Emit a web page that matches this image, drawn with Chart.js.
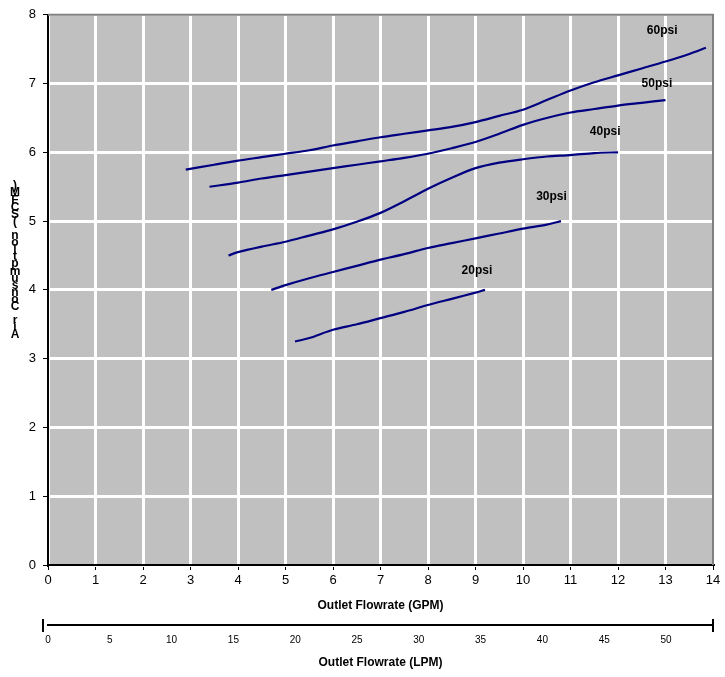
<!DOCTYPE html>
<html>
<head>
<meta charset="utf-8">
<script src="https://cdn.jsdelivr.net/npm/chart.js@4.4.1/dist/chart.umd.min.js"></script>
<style>
  html, body { margin: 0; padding: 0; background: #fff; }
  #wrap { width: 725px; height: 677px; }
</style>
</head>
<body>
<div id="wrap"><canvas id="flowChart" width="725" height="677"></canvas></div>
<script>
// tick labels
let gpmTicks = [0, 1, 2, 3, 4, 5, 6, 7, 8, 9, 10, 11, 12, 13, 14];
let lpmTicks = [0, 5, 10, 15, 20, 25, 30, 35, 40, 45, 50];
let scfmTicks = [0, 1, 2, 3, 4, 5, 6, 7, 8];

// series (x = GPM, y = SCFM)
let psi60X = [2.9, 3.5, 4, 4.5, 5, 5.5, 6, 6.5, 7, 7.5, 8, 8.5, 9, 9.5, 10, 10.5, 11, 11.5, 12, 12.5, 13, 13.5, 13.85];
let psi60Y = [5.75, 5.82, 5.88, 5.93, 5.98, 6.03, 6.1, 6.16, 6.22, 6.27, 6.32, 6.37, 6.44, 6.53, 6.62, 6.76, 6.9, 7.02, 7.12, 7.22, 7.32, 7.43, 7.52];

let psi50X = [3.4, 4, 4.5, 5, 5.5, 6, 6.5, 7, 7.5, 8, 8.5, 9, 9.5, 10, 10.5, 11, 11.5, 12, 12.5, 13];
let psi50Y = [5.5, 5.56, 5.62, 5.67, 5.72, 5.77, 5.82, 5.87, 5.92, 5.98, 6.06, 6.15, 6.27, 6.4, 6.5, 6.58, 6.63, 6.68, 6.72, 6.76];

let psi40X = [3.8, 4, 4.5, 5, 5.5, 6, 6.5, 7, 7.5, 8, 8.5, 9, 9.5, 10, 10.5, 11, 11.5, 12];
let psi40Y = [4.5, 4.55, 4.63, 4.7, 4.79, 4.88, 4.99, 5.12, 5.29, 5.47, 5.63, 5.77, 5.85, 5.9, 5.94, 5.96, 5.99, 6.0];

let psi30X = [4.7, 5, 5.5, 6, 6.5, 7, 7.5, 8, 8.5, 9, 9.5, 10, 10.5, 10.8];
let psi30Y = [4.0, 4.07, 4.17, 4.26, 4.35, 4.44, 4.52, 4.61, 4.68, 4.75, 4.82, 4.89, 4.95, 5.0];

let psi20X = [5.2, 5.5, 6, 6.5, 7, 7.5, 8, 8.5, 9, 9.2];
let psi20Y = [3.25, 3.3, 3.42, 3.5, 3.59, 3.68, 3.78, 3.87, 3.96, 4.0];

// curve labels
let seriesNames = ['60psi', '50psi', '40psi', '30psi', '20psi'];
let nameX = [12.93, 12.82, 11.73, 10.6, 9.03];
let nameY = [7.77, 7.0, 6.3, 5.36, 4.28];

let yTitle = 'Air Consumption (SCFM)';
let xTitle = 'Outlet Flowrate (GPM)';
let x2Title = 'Outlet Flowrate (LPM)';

let lineColor = '#000080';
let fontName = '"Liberation Sans", Arial, sans-serif';

function toPoints(xs, ys) {
    return xs.map((x, i) => ({ x: x, y: ys[i] }));
}

function makeSet(name, xs, ys) {
    return {
        label: name,
        data: toPoints(xs, ys),
        borderColor: lineColor,
        borderWidth: 2.2,
        pointRadius: 0,
        tension: 0.3,
        fill: false
    };
}

function fixedTicks(list) {
    return function (scale) {
        scale.ticks = list.map((v) => ({ value: v }));
    };
}

// gray plot background, gray top/right frame, stacked y title, series names, end ticks on LPM axis
let decorations = {
    id: 'decorations',
    beforeDraw(chart) {
        let a = chart.chartArea;
        let ctx = chart.ctx;
        ctx.save();
        ctx.fillStyle = '#c0c0c0';
        ctx.fillRect(a.left, a.top, a.right - a.left, a.bottom - a.top);
        ctx.restore();
    },
    afterDraw(chart) {
        let a = chart.chartArea;
        let ctx = chart.ctx;
        let sx = chart.scales.x;
        let sy = chart.scales.y;
        let s2 = chart.scales.x2;
        ctx.save();

        ctx.strokeStyle = '#808080';
        ctx.lineWidth = 2;
        ctx.beginPath();
        ctx.moveTo(a.left, a.top);
        ctx.lineTo(a.right, a.top);
        ctx.lineTo(a.right, a.bottom);
        ctx.stroke();

        ctx.fillStyle = '#000';
        ctx.font = 'bold 12px ' + fontName;
        ctx.textAlign = 'center';
        ctx.textBaseline = 'middle';
        seriesNames.forEach((n, i) => {
            ctx.fillText(n, sx.getPixelForValue(nameX[i]), sy.getPixelForValue(nameY[i]));
        });

        // the y title as the old spreadsheet drew it: letters stacked, last one on top
        ctx.font = 'bold 12px ' + fontName;
        let chars = yTitle.split('').reverse();
        let top = 186;
        let step = 7.1;
        chars.forEach((c, i) => {
            ctx.fillText(c, 15, top + i * step);
        });

        ctx.strokeStyle = '#000';
        ctx.lineWidth = 2;
        ctx.beginPath();
        ctx.moveTo(s2.left - 5, s2.top - 6);
        ctx.lineTo(s2.left - 5, s2.top + 7);
        ctx.moveTo(s2.right, s2.top - 6);
        ctx.lineTo(s2.right, s2.top + 7);
        ctx.stroke();
        ctx.restore();
    }
};

let ctx = document.getElementById('flowChart').getContext('2d');
let chart = new Chart(ctx, {
    type: 'line',
    data: {
        datasets: [
            makeSet('60psi', psi60X, psi60Y),
            makeSet('50psi', psi50X, psi50Y),
            makeSet('40psi', psi40X, psi40Y),
            makeSet('30psi', psi30X, psi30Y),
            makeSet('20psi', psi20X, psi20Y)
        ]
    },
    options: {
        responsive: false,
        animation: false,
        devicePixelRatio: 1,
        layout: { padding: { top: 12, right: 12, left: 0, bottom: 0 } },
        plugins: {
            legend: { display: false },
            tooltip: { enabled: false }
        },
        scales: {
            x: {
                type: 'linear',
                position: 'bottom',
                min: 0,
                max: 14,
                afterBuildTicks: fixedTicks(gpmTicks),
                afterFit: (scale) => { scale.height = 60; },
                grid: { color: '#fff', lineWidth: 3, tickColor: '#000', tickLength: 5, tickWidth: 1, z: -1 },
                border: { color: '#000', width: 2 },
                ticks: { color: '#000', padding: 3, maxRotation: 0, font: { family: fontName, size: 13 } },
                title: {
                    display: true, text: xTitle, color: '#000',
                    font: { family: fontName, size: 12, weight: 'bold' },
                    padding: { top: 0, bottom: 12 }
                }
            },
            x2: {
                type: 'linear',
                position: 'bottom',
                min: 0,
                max: 53.8,
                afterBuildTicks: fixedTicks(lpmTicks),
                afterFit: (scale) => { scale.height = 52; },
                grid: { display: false, drawTicks: false },
                border: { color: '#000', width: 2 },
                ticks: { color: '#000', padding: 9, maxRotation: 0, font: { family: fontName, size: 10 } },
                title: {
                    display: true, text: x2Title, color: '#000',
                    font: { family: fontName, size: 12, weight: 'bold' },
                    padding: { top: 0, bottom: 7 }
                }
            },
            y: {
                type: 'linear',
                min: 0,
                max: 8,
                afterBuildTicks: fixedTicks(scfmTicks),
                afterFit: (scale) => { scale.width = 48; },
                grid: { color: '#fff', lineWidth: 3, tickColor: '#000', tickLength: 5, tickWidth: 1, z: -1 },
                border: { color: '#000', width: 2 },
                ticks: { color: '#000', padding: 7, font: { family: fontName, size: 13 } }
            }
        }
    },
    plugins: [decorations]
});
</script>
</body>
</html>
